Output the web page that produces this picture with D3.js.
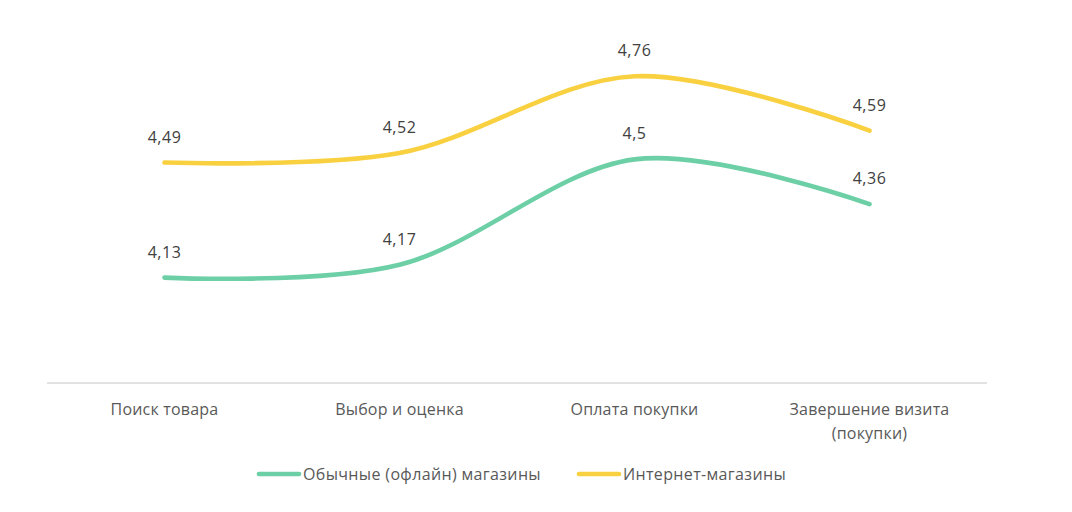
<!DOCTYPE html>
<html><head><meta charset="utf-8">
<script src="https://cdn.jsdelivr.net/npm/d3@7"></script>
<style>body{margin:0;background:#fff;} svg{display:block;font-family:"Open Sans",sans-serif;}</style>
</head><body>
<svg id="c" width="1072" height="512"></svg>
<script>
const categories = ["Поиск товара", "Выбор и оценка", "Оплата покупки", "Завершение визита (покупки)"];
const categoryLines = [["Поиск товара"], ["Выбор и оценка"], ["Оплата покупки"], ["Завершение визита", "(покупки)"]];
const offlineValues = [4.13, 4.17, 4.5, 4.36];
const onlineValues = [4.49, 4.52, 4.76, 4.59];
const seriesNames = ["Обычные (офлайн) магазины", "Интернет-магазины"];
const seriesColors = ["#6CCFA6", "#F8D040"];

const svg = d3.select("#c");
const x = d3.scaleBand().domain(categories).range([47, 987]);
const y = d3.scaleLinear().domain([3.8, 4.9]).range([383, 31.6]);
const cx = c => x(c) + x.bandwidth() / 2;

svg.append("line").attr("x1", 47).attr("x2", 987).attr("y1", 383).attr("y2", 383)
  .attr("stroke", "#d9d9d9").attr("stroke-width", 1.3);

const series = [offlineValues, onlineValues];
const line = d3.line().x((d, i) => cx(categories[i])).y(d => y(d)).curve(d3.curveCardinal.tension(0));
series.forEach((vals, s) => {
  svg.append("path").attr("d", line(vals)).attr("fill", "none")
    .attr("stroke", seriesColors[s]).attr("stroke-width", 4.6).attr("stroke-linecap", "round");
  vals.forEach((v, i) => {
    svg.append("text").attr("x", cx(categories[i])).attr("y", y(v) - 20)
      .attr("text-anchor", "middle").attr("font-size", 16).attr("letter-spacing", 0.5).attr("fill", "#404040")
      .text(String(v).replace(".", ","));
  });
});

categoryLines.forEach((lines, i) => {
  lines.forEach((t, k) => {
    svg.append("text").attr("x", cx(categories[i])).attr("y", 415 + k * 24)
      .attr("text-anchor", "middle").attr("font-size", 16).attr("letter-spacing", 0.2).attr("fill", "#595959").text(t);
  });
});

const legendX = [257, 577];
seriesNames.forEach((n, s) => {
  svg.append("line").attr("x1", legendX[s] + 2).attr("x2", legendX[s] + 42).attr("y1", 474).attr("y2", 474)
    .attr("stroke", seriesColors[s]).attr("stroke-width", 4.6).attr("stroke-linecap", "round");
  svg.append("text").attr("x", legendX[s] + 46).attr("y", 480).attr("font-size", 16).attr("letter-spacing", 0.35)
    .attr("fill", "#595959").text(n);
});
</script>
</body></html>
